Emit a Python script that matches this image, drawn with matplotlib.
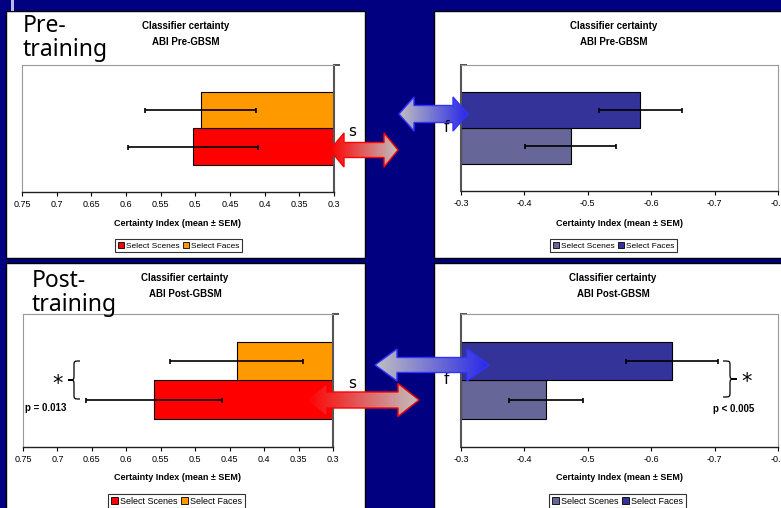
import numpy as np
import matplotlib
matplotlib.use("Agg")
import matplotlib.pyplot as plt
from matplotlib.patches import Rectangle, Polygon, Patch, PathPatch
from matplotlib.path import Path
from matplotlib.colors import LinearSegmentedColormap

plt.rcParams['axes.unicode_minus'] = False
plt.rcParams['font.family'] = ['Liberation Sans', 'DejaVu Sans']

W, H = 781, 508

# data
sessions = ["Pre-GBSM", "Post-GBSM"]
session_labels = ["Pre-\ntraining", "Post-\ntraining"]
legend_labels = ["Select Scenes", "Select Faces"]

# scene classifier (left charts), baseline 0.3
scene_clf_scenes = [0.503, 0.560]
scene_clf_scenes_sem = [0.094, 0.099]
scene_clf_faces = [0.492, 0.440]
scene_clf_faces_sem = [0.080, 0.096]
scene_ticks = [0.75, 0.7, 0.65, 0.6, 0.55, 0.5, 0.45, 0.4, 0.35, 0.3]

# face classifier (right charts), baseline -0.3
face_clf_scenes = [-0.473, -0.434]
face_clf_scenes_sem = [0.072, 0.059]
face_clf_faces = [-0.583, -0.633]
face_clf_faces_sem = [0.065, 0.072]
face_ticks = [-0.3, -0.4, -0.5, -0.6, -0.7, -0.8]

p_scene_post = "p = 0.013"
p_face_post = "p < 0.005"

fig = plt.figure(figsize=(W / 100, H / 100), dpi=100, facecolor="#000080")

# background panels (pixel coords)
bg = fig.add_axes([0, 0, 1, 1], zorder=-5)
bg.set_xlim(0, W)
bg.set_ylim(H, 0)
bg.axis('off')
for x, y, w, h in [(6, 11, 359, 247), (434, 11, 360, 247), (6, 263, 359, 260), (434, 263, 360, 260)]:
    bg.add_patch(Rectangle((x, y), w, h, fc='white', ec='black', lw=1))
bg.add_patch(Rectangle((11, 0), 3, 11, fc='#B8B8E8', ec='none'))


def px_axes(x0, y0, x1, y1):
    return fig.add_axes([x0 / W, 1 - y1 / H, (x1 - x0) / W, (y1 - y0) / H])


def chart(ax, scenes, scenes_sem, faces, faces_sem, base, xlim, ticks, colors, axis_right):
    ax.barh(0.357, scenes - base, left=base, height=0.288, color=colors[0], edgecolor='black', lw=0.8, zorder=2)
    ax.barh(0.645, faces - base, left=base, height=0.288, color=colors[1], edgecolor='black', lw=0.8, zorder=2)
    ax.errorbar([scenes, faces], [0.357, 0.645], xerr=[scenes_sem, faces_sem], fmt='none',
                ecolor='black', elinewidth=1.2, capsize=1.8, capthick=1.2, zorder=3)
    ax.set_xlim(*xlim)
    ax.set_ylim(0, 1)
    ax.set_xticks(ticks)
    ax.set_xticklabels([f"{t:g}" for t in ticks], fontsize=6.5)
    ax.tick_params(axis='x', direction='out', length=3, width=0.8, pad=3, color='black')
    for s in ['top', 'left', 'right']:
        ax.spines[s].set_color('#999999')
        ax.spines[s].set_linewidth(0.8)
    ax.spines['bottom'].set_color('#222222')
    ax.spines['bottom'].set_linewidth(1)
    side = 'right' if axis_right else 'left'
    ax.spines[side].set_color('#555555')
    ax.spines[side].set_linewidth(1.5)
    ax.set_yticks([1.0])
    ax.set_yticklabels([])
    if axis_right:
        ax.yaxis.tick_right()
        ax.tick_params(axis='y', direction='out', length=4, width=1.2, color='#333333')
    else:
        ax.tick_params(axis='y', direction='in', length=4, width=1.2, color='#333333')


left_cols = ['#FF0000', '#FF9900']
right_cols = ['#666699', '#333399']

chart(px_axes(22, 65, 334, 192), scene_clf_scenes[0], scene_clf_scenes_sem[0], scene_clf_faces[0],
      scene_clf_faces_sem[0], 0.3, (0.75, 0.3), scene_ticks, left_cols, True)
chart(px_axes(461, 65, 778, 191), face_clf_scenes[0], face_clf_scenes_sem[0], face_clf_faces[0],
      face_clf_faces_sem[0], -0.3, (-0.3, -0.8), face_ticks, right_cols, False)
chart(px_axes(23, 314, 333, 447), scene_clf_scenes[1], scene_clf_scenes_sem[1], scene_clf_faces[1],
      scene_clf_faces_sem[1], 0.3, (0.75, 0.3), scene_ticks, left_cols, True)
chart(px_axes(461, 314, 778, 447), face_clf_scenes[1], face_clf_scenes_sem[1], face_clf_faces[1],
      face_clf_faces_sem[1], -0.3, (-0.3, -0.8), face_ticks, right_cols, False)

# overlay for texts and arrows
fg = fig.add_axes([0, 0, 1, 1], zorder=10)
fg.patch.set_alpha(0)
fg.axis('off')

title_pos = [(186, 26), (614, 26), (185, 278), (613, 278)]
xlabel_pos = [(178, 223), (619, 223), (178, 477), (619, 477)]
legend_pos = [(115, 239, 6), (550, 239, 6), (108, 494, 6.5), (549, 494, 6.5)]
for i in range(4):
    sess = sessions[i // 2]
    tx, ty = title_pos[i]
    fg.text(tx, ty, "Classifier certainty", ha='center', va='center', fontsize=7, fontweight='bold')
    fg.text(tx, ty + 16, "ABI " + sess, ha='center', va='center', fontsize=7, fontweight='bold')
    lx, ly = xlabel_pos[i]
    fg.text(lx, ly, "Certainty Index (mean \u00b1 SEM)", ha='center', va='center', fontsize=6.5, fontweight='bold')
    cols = left_cols if i % 2 == 0 else right_cols
    handles = [Patch(fc=cols[0], ec='black', lw=0.6), Patch(fc=cols[1], ec='black', lw=0.6)]
    gx, gy, fs = legend_pos[i]
    leg = fig.legend(handles, legend_labels, loc='upper left', bbox_to_anchor=(gx / W, 1 - gy / H),
                     ncol=2, fontsize=fs, frameon=True, fancybox=False, edgecolor='black',
                     handlelength=0.8, handleheight=0.8, handletextpad=0.2, columnspacing=0.4,
                     borderpad=0.3, borderaxespad=0)
    leg.get_frame().set_linewidth(0.8)
    leg.set_zorder(11)

fg.text(23, 14, session_labels[0], ha='left', va='top', fontsize=16.5, family='Noto Sans', linespacing=0.98)
fg.text(32, 269, session_labels[1], ha='left', va='top', fontsize=16.5, family='Noto Sans', linespacing=0.98)

for x, y, t in [(352, 131, 's'), (352, 383, 's'), (446, 128, 'f'), (446, 380, 'f')]:
    fg.text(x, y, t, ha='center', va='center', fontsize=11, family='DejaVu Sans')


def grad_arrow(x0, x1, yc, hh, sh, hl, c_left, c_right, edge):
    pts = [(x0, yc), (x0 + hl, yc - hh), (x0 + hl, yc - sh), (x1 - hl, yc - sh), (x1 - hl, yc - hh),
           (x1, yc), (x1 - hl, yc + hh), (x1 - hl, yc + sh), (x0 + hl, yc + sh), (x0 + hl, yc + hh)]
    poly = Polygon(pts, closed=True, fc='none', ec=edge, lw=1, zorder=3)
    fg.add_patch(poly)
    cmap = LinearSegmentedColormap.from_list('g', [c_left, c_right])
    im = fg.imshow(np.linspace(0, 1, 256).reshape(1, -1), cmap=cmap, extent=(x0, x1, yc + hh, yc - hh),
                   aspect='auto', zorder=2, interpolation='bilinear')
    im.set_clip_path(poly)


grad_arrow(330, 398, 150, 17, 7.5, 14, '#FF0000', '#C0C0C0', '#FF0000')
grad_arrow(399, 468, 114, 17, 8.5, 15, '#C0C0C0', '#2828E8', '#3333FF')
grad_arrow(375, 489, 365, 16, 7.5, 22, '#C0C0C0', '#2828E8', '#3333FF')
grad_arrow(306, 419, 400, 16.5, 8, 21, '#FF0000', '#C0C0C0', '#FF0000')


def brace(x_end, x_tip, y0, y1):
    xm = (x_end + x_tip) / 2
    ym = (y0 + y1) / 2
    q = 5
    verts = [(x_end, y0), (xm, y0), (xm, y0), (xm, y0 + q),
             (xm, ym - q), (xm, ym), (xm, ym), (x_tip, ym),
             (xm, ym), (xm, ym), (xm, ym + q),
             (xm, y1 - q), (xm, y1), (xm, y1), (x_end, y1)]
    codes = [Path.MOVETO, Path.CURVE4, Path.CURVE4, Path.CURVE4,
             Path.LINETO, Path.CURVE4, Path.CURVE4, Path.CURVE4,
             Path.CURVE4, Path.CURVE4, Path.CURVE4,
             Path.LINETO, Path.CURVE4, Path.CURVE4, Path.CURVE4]
    fg.add_patch(PathPatch(Path(verts, codes), fc='none', ec='black', lw=0.9))


brace(80, 68, 361, 399)
brace(723, 737, 361, 397)
fg.text(58, 384, '*', ha='center', va='center', fontsize=15, family='DejaVu Sans')
fg.text(747, 382, '*', ha='center', va='center', fontsize=15, family='DejaVu Sans')
fg.text(25, 408, p_scene_post, ha='left', va='center', fontsize=7, fontweight='bold')
fg.text(713, 409, p_face_post, ha='left', va='center', fontsize=7, fontweight='bold')

fg.set_xlim(0, W)
fg.set_ylim(H, 0)

fig.savefig("out.png", dpi=100, facecolor=fig.get_facecolor())
